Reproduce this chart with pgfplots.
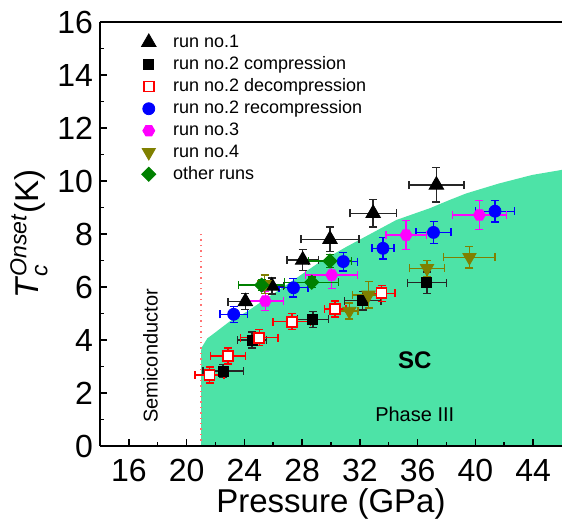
\documentclass[border=0pt]{standalone}
\usepackage{fontspec}
\setmainfont{Liberation Sans}
\usepackage{amsmath}
\usepackage{pgfplots}
\usepackage{pgfplotstable}
\pgfplotsset{compat=1.18}
\definecolor{scgreen}{RGB}{77,227,167}
\definecolor{olivec}{RGB}{128,128,0}
\definecolor{dgreen}{RGB}{0,128,0}
\definecolor{magc}{RGB}{255,0,255}
\definecolor{bluec}{RGB}{0,0,255}
\definecolor{redc}{RGB}{255,0,0}
\pgfdeclareplotmark{hexagon*}{%
  \pgfpathmoveto{\pgfqpointpolar{0}{\pgfplotmarksize}}%
  \pgfpathlineto{\pgfqpointpolar{60}{\pgfplotmarksize}}%
  \pgfpathlineto{\pgfqpointpolar{120}{\pgfplotmarksize}}%
  \pgfpathlineto{\pgfqpointpolar{180}{\pgfplotmarksize}}%
  \pgfpathlineto{\pgfqpointpolar{240}{\pgfplotmarksize}}%
  \pgfpathlineto{\pgfqpointpolar{300}{\pgfplotmarksize}}%
  \pgfpathclose\pgfusepathqfillstroke}
\pgfplotstableread{
x y ex ey
24.07 5.45 1.2 0.3
25.9 6.04 0.8 0.3
28.04 7.02 1.1 0.4
29.93 7.8 2.0 0.47
32.92 8.78 1.6 0.52
37.3 9.85 1.9 0.65
}\runone
\pgfplotstableread{
x y ex ey
22.53 2.83 1.4 0.25
24.53 4.0 1.0 0.3
28.74 4.78 1.07 0.3
32.19 5.48 1.26 0.35
36.64 6.16 1.35 0.41
}\comp
\pgfplotstableread{
x y ex ey
21.59 2.68 1.0 0.3
22.87 3.4 1.2 0.3
25.03 4.09 1.3 0.3
27.29 4.69 1.3 0.3
30.28 5.17 0.75 0.3
33.5 5.76 0.92 0.3
}\decomp
\pgfplotstableread{
x y ex ey
23.26 4.97 0.95 0.3
27.4 5.97 1.0 0.35
30.85 6.96 1.0 0.35
33.6 7.46 0.77 0.4
37.1 8.06 1.2 0.42
41.36 8.86 1.35 0.4
}\recomp
\pgfplotstableread{
x y ex ey
25.45 5.47 1.26 0.35
30.05 6.45 1.8 0.5
35.2 7.96 1.4 0.55
40.28 8.72 1.86 0.55
}\runthree
\pgfplotstableread{
x y ex ey
25.4 6.1 0.5 0.35
31.27 5.09 0.6 0.3
32.6 5.7 1.1 0.5
36.65 6.7 1.23 0.3
39.59 7.12 1.78 0.4
}\runfour
\pgfplotstableread{
x y ex ey
25.2 6.07 1.6 0.2
28.67 6.18 1.87 0.2
29.93 6.98 1.5 0.25
}\other
\pgfplotsset{eb/.style={error bars/.cd, x dir=both, x explicit, y dir=both, y explicit,
  error bar style={line width=0.7pt,#1}, error mark options={line width=0.7pt, mark size=2pt, rotate=90, #1}}}
\begin{document}
\begin{tikzpicture}
\begin{axis}[name=ax,
  width=231pt, height=212pt, scale only axis,
  xmin=14, xmax=46, ymin=0, ymax=16,
  axis x line*=bottom, axis y line*=left,
  axis line style={line width=0.75pt},
  xtick={16,20,...,44}, ytick={0,2,...,16},
  minor x tick num=1, minor y tick num=1,
  tick align=inside,
  major tick length=3.5pt, minor tick length=2pt,
  tick style={line width=0.75pt, black},
  /pgf/number format/assume math mode=true,
  ticklabel style={font=\fontsize{16}{18}\selectfont},
  xticklabel style={yshift=-3pt},
  xlabel={Pressure (GPa)},
  ylabel={\textit{T}$_{\text{\textit{c}}}^{\text{\textit{Onset}}}$(K)},
  label style={font=\fontsize{16.5}{18}\selectfont},
  xlabel style={yshift=3.5pt},
  ylabel style={yshift=-2pt},
  legend style={at={(rel axis cs:0.076,0.99)}, anchor=north west, draw=none, fill=none,
    font=\fontsize{9}{10}\selectfont, row sep=-0.9pt,
    /tikz/every odd column/.append style={column sep=6.5pt}},
  legend cell align=left,
  axis on top,
]
\addplot[fill=scgreen, draw=none, forget plot] coordinates {
(21,0) (21,3.6) (21.08,3.75) (21.43,4.06) (21.9,4.25) (23.03,4.72) (24.18,5.07) (25.33,5.5)
(26.7,6.0) (28.09,6.52) (29.24,6.95) (31.08,7.52) (34.53,8.53) (36.83,8.97) (38.2,9.28)
(39.36,9.53) (41.66,9.91) (43.95,10.23) (46,10.42) (46,0)} -- cycle;
\addplot[redc!55, dotted, line width=0.7pt, forget plot] coordinates {(21,0) (21,8.1)};
\addplot[only marks, mark=triangle*, mark size=4.2pt, black, eb={black!85}]
  table[x=x,y=y,x error=ex,y error=ey]{\runone};
\addlegendentry{run no.1}
\addplot[only marks, mark=square*, mark size=2.5pt, black, eb={black!85}]
  table[x=x,y=y,x error=ex,y error=ey]{\comp};
\addlegendentry{run no.2 compression}
\addplot[only marks, mark=square*, mark size=2.5pt, redc, mark options={fill=white, line width=0.9pt}, eb={redc}]
  table[x=x,y=y,x error=ex,y error=ey]{\decomp};
\addlegendentry{run no.2 decompression}
\addplot[only marks, mark=*, mark size=3pt, bluec, eb={bluec}]
  table[x=x,y=y,x error=ex,y error=ey]{\recomp};
\addlegendentry{run no.2 recompression}
\addplot[only marks, mark=hexagon*, mark size=3pt, magc, eb={magc}]
  table[x=x,y=y,x error=ex,y error=ey]{\runthree};
\addlegendentry{run no.3}
\addplot[only marks, mark=triangle*, mark size=3.8pt, olivec, mark options={rotate=180}, eb={olivec}]
  table[x=x,y=y,x error=ex,y error=ey]{\runfour};
\addlegendentry{run no.4}
\addplot[only marks, mark=square*, mark size=2.5pt, dgreen, mark options={rotate=45}, eb={dgreen}]
  table[x=x,y=y,x error=ex,y error=ey]{\other};
\addlegendentry{other runs}
\draw[line width=0.75pt] (rel axis cs:0,1) -- (rel axis cs:1,1);
\node[rotate=90, font=\fontsize{10}{12}\selectfont] at (axis cs:17.5,3.4) {Semiconductor};
\node[font=\fontsize{12}{14}\selectfont\bfseries] at (axis cs:35.8,3.25) {SC};
\node[font=\fontsize{10}{12}\selectfont] at (axis cs:35.8,1.2) {Phase III};
\end{axis}
\pgfresetboundingbox
\path (ax.south west) ++(-50pt,-36.5pt) coordinate (bl);
\path (ax.north east) ++(0pt,11pt) coordinate (tr);
\useasboundingbox (bl) rectangle (tr);
\end{tikzpicture}
\end{document}
